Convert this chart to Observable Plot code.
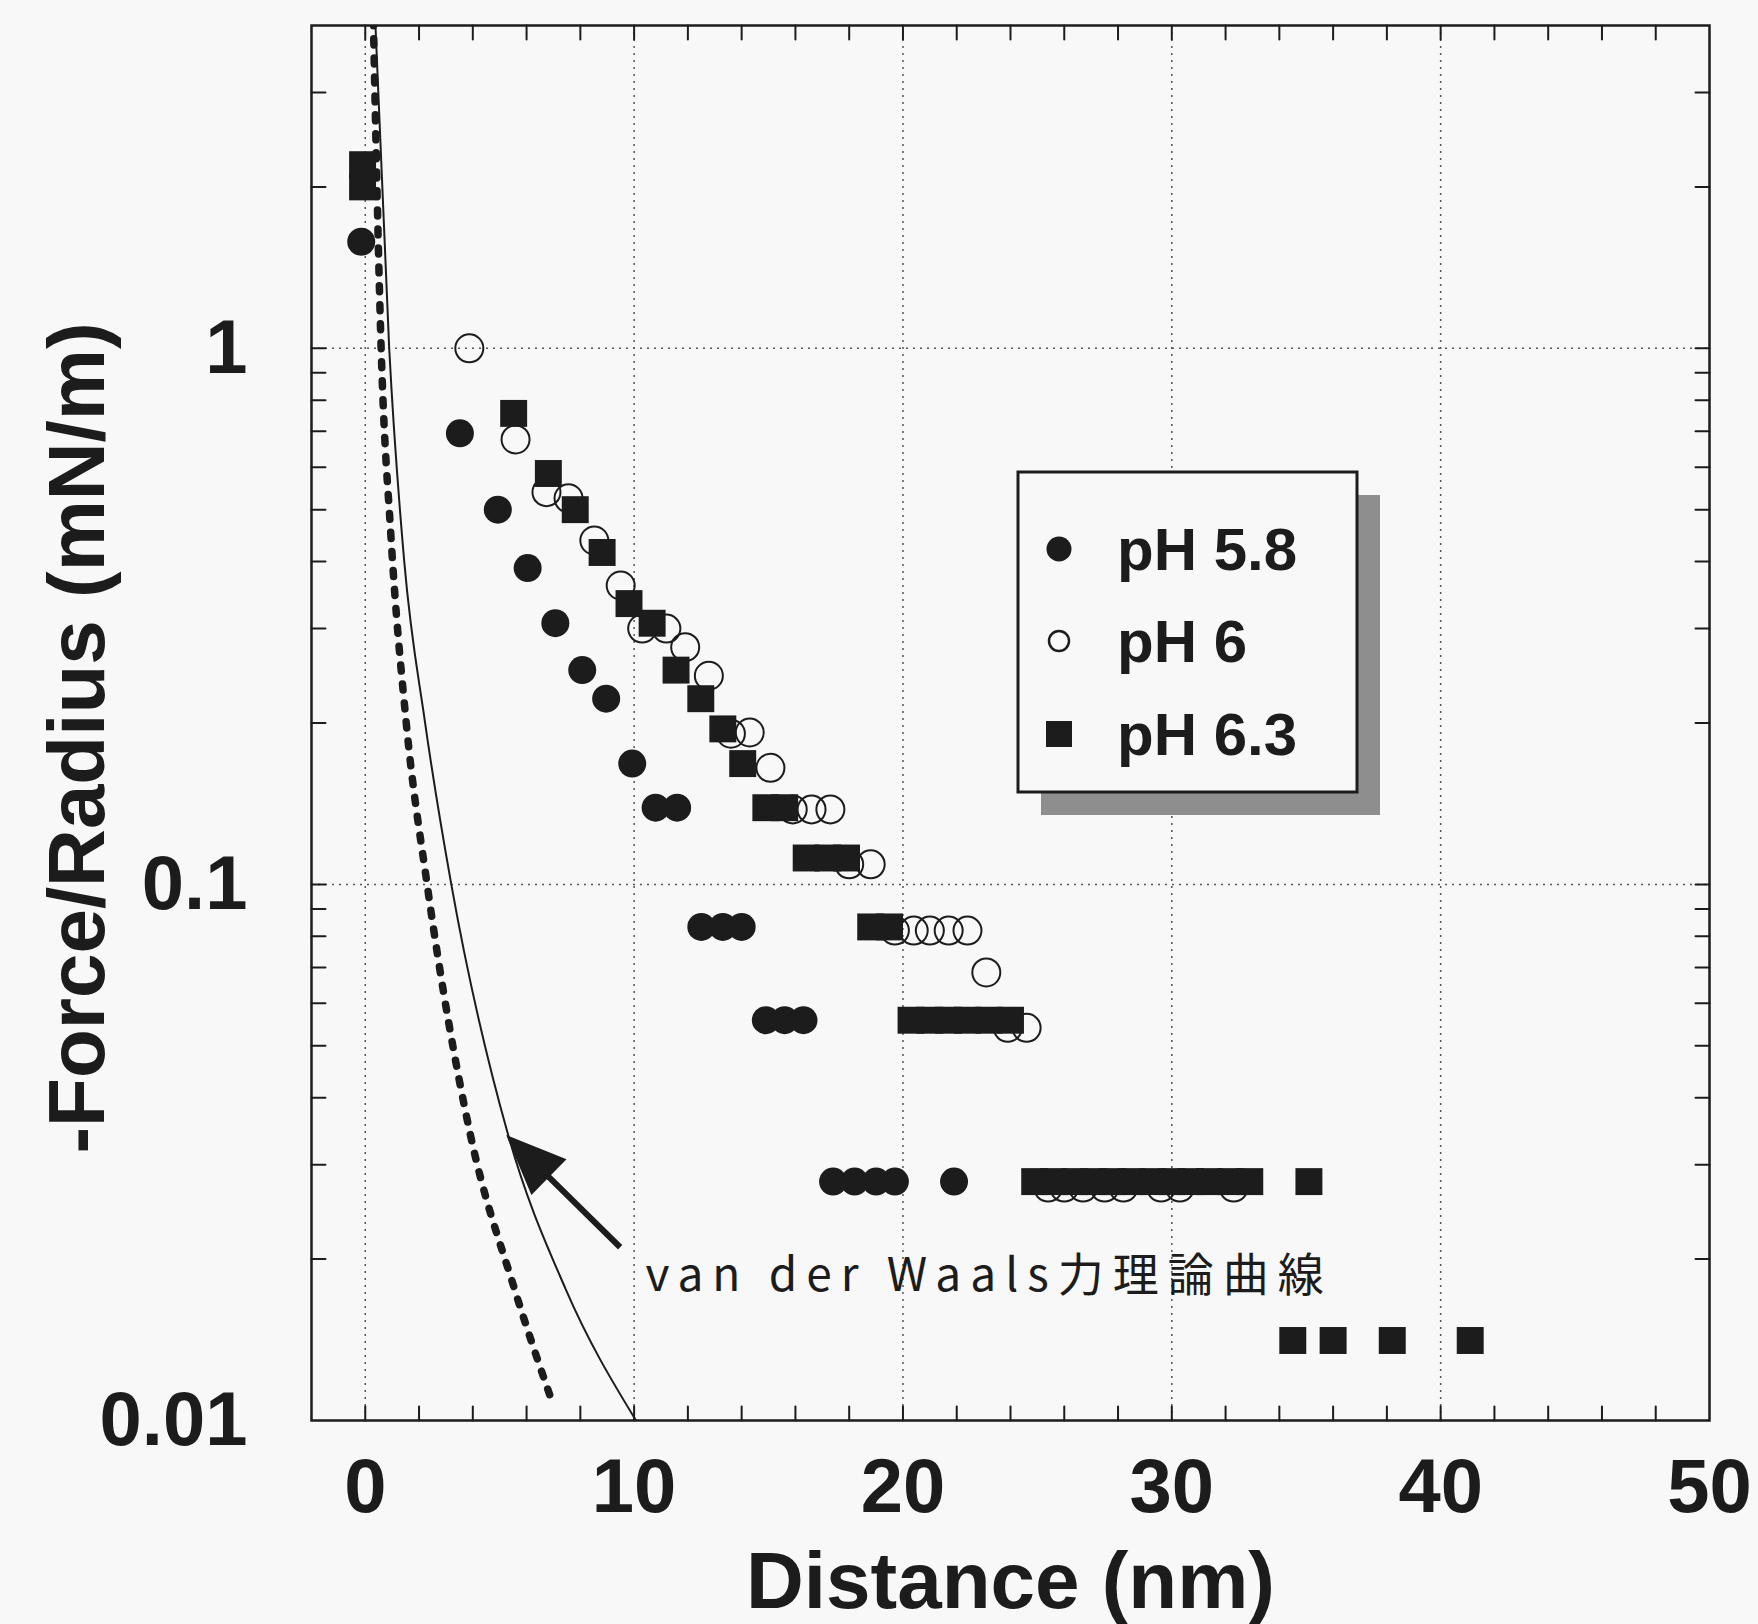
<!DOCTYPE html>
<html>
<head>
<meta charset="utf-8">
<script src="https://cdn.jsdelivr.net/npm/d3@7"></script>
<script src="https://cdn.jsdelivr.net/npm/@observablehq/plot@0.6"></script>
<style>
  html, body { margin: 0; padding: 0; background: #f8f8f8; }
  #chart { width: 1758px; height: 1624px; }
</style>
</head>
<body>
<div id="chart"></div>
<script>
// ---------- data ----------
const pH58X = [-0.15, 3.52, 4.93, 6.04, 7.07, 8.07, 8.96, 9.93, 10.8, 11.6, 12.5, 13.3, 14.0, 14.9, 15.6, 16.3, 17.4, 18.2, 19.0, 19.7, 21.9];
const pH58Y = [1.58, 0.694, 0.50, 0.389, 0.307, 0.251, 0.222, 0.168, 0.139, 0.139, 0.0833, 0.0833, 0.0833, 0.0558, 0.0558, 0.0558, 0.0279, 0.0279, 0.0279, 0.0279, 0.0279];

const pH6X = [3.87, 5.59, 6.74, 7.56, 8.52, 9.5, 10.3, 11.2, 11.9, 12.78, 13.6, 14.3, 15.07, 15.9, 16.6, 17.3, 18.0, 18.8, 19.7, 20.4, 21.0, 21.7, 22.4, 23.1, 23.9, 24.6, 25.4, 26.0, 26.7, 27.5, 28.2, 29.6, 30.3, 32.3];
const pH6Y = [1.0, 0.676, 0.539, 0.525, 0.438, 0.361, 0.30, 0.30, 0.277, 0.245, 0.191, 0.192, 0.165, 0.138, 0.138, 0.138, 0.109, 0.109, 0.082, 0.082, 0.082, 0.082, 0.082, 0.0685, 0.054, 0.054, 0.0272, 0.0272, 0.0272, 0.0272, 0.0272, 0.0272, 0.0272, 0.0272];

const pH63X = [-0.1, -0.1, 5.52, 6.81, 7.81, 8.81, 9.81, 10.67, 11.56, 12.48, 13.3, 14.04, 14.9, 15.6, 16.4, 17.2, 17.9, 18.8, 19.5, 20.3, 21.0, 21.7, 22.4, 23.2, 24.0, 24.9, 25.6, 26.4, 27.1, 27.8, 28.5, 29.3, 30.0, 30.7, 31.4, 32.2, 32.9, 35.1, 34.5, 36.0, 38.2, 41.1];
const pH63Y = [2.2, 2.0, 0.756, 0.584, 0.50, 0.416, 0.334, 0.307, 0.251, 0.222, 0.195, 0.168, 0.139, 0.139, 0.112, 0.112, 0.112, 0.0833, 0.0833, 0.0558, 0.0558, 0.0558, 0.0558, 0.0558, 0.0558, 0.0279, 0.0279, 0.0279, 0.0279, 0.0279, 0.0279, 0.0279, 0.0279, 0.0279, 0.0279, 0.0279, 0.0279, 0.0279, 0.0141, 0.0141, 0.0141, 0.0141];

// van der Waals theoretical curves
const vdwSolidX = [0.37, 0.89, 1.45, 2.22, 3.2, 5.3, 7.45, 10.07];
const vdwSolidY = [4.1, 1.0, 0.40, 0.201, 0.1, 0.0343, 0.0176, 0.01];
const vdwDottedX = [0.3, 0.59, 0.95, 1.52, 2.3, 3.9, 5.55, 6.96];
const vdwDottedY = [4.1, 1.0, 0.45, 0.201, 0.1, 0.0343, 0.0176, 0.0108];

// ticks, labels and texts
const xTickValues = [0, 10, 20, 30, 40, 50];
const yTickValues = [0.01, 0.1, 1];
const xGridValues = [0, 10, 20, 30, 40];
const yGridValues = [0.1, 1];
const seriesLabels = ["pH 5.8", "pH 6", "pH 6.3"];
const xTitle = "Distance (nm)";
const yTitle = "-Force/Radius (mN/m)";
const annotationLabel = "van der Waals力理論曲線";
// annotation arrow: tail (x, y) -> tip (x, y), in data units
const arrowTail = [9.5, 0.021];
const arrowTip = [5.26, 0.034];
const annotationAnchor = [10.44, 0.019];

// ---------- build ----------
const ink = "#1c1c1c";
const bg = "#f8f8f8";
const rows = (xs, ys) => xs.map((x, i) => ({x, y: ys[i]}));
const pH58 = rows(pH58X, pH58Y);
const pH6 = rows(pH6X, pH6Y);
const pH63 = rows(pH63X, pH63Y);
const vdwSolid = rows(vdwSolidX, vdwSolidY);
const vdwDotted = rows(vdwDottedX, vdwDottedY);

const xTickMarks = d3.range(0, 50, 2);
const yTickMarks = [];
for (const dec of [0.01, 0.1, 1]) for (let m = 1; m <= 9; m++) { const v = +(dec * m).toPrecision(3); if (v > 0.01 && v < 4) yTickMarks.push(v); }

const tickShape = {draw(ctx, l) { ctx.moveTo(0, 0); ctx.lineTo(0, -l); }};
const tickOpts = {length: 14, anchor: "start", shape: tickShape, stroke: ink, strokeWidth: 2};

const chart = Plot.plot({
  width: 1758,
  height: 1624,
  marginLeft: 311,
  marginRight: 49,
  marginTop: 25,
  marginBottom: 204,
  style: {background: bg, color: ink, fontFamily: "'Liberation Sans', Arial, sans-serif"},
  x: {domain: [-2, 50]},
  y: {type: "log", domain: [0.01, 4]},
  marks: [
    Plot.ruleX(xGridValues, {stroke: "#555", strokeWidth: 1.5, strokeDasharray: "2 5"}),
    Plot.ruleY(yGridValues, {stroke: "#555", strokeWidth: 1.5, strokeDasharray: "2 5"}),
    Plot.line(vdwSolid, {x: "x", y: "y", curve: "monotone-x", stroke: ink, strokeWidth: 2, clip: true}),
    Plot.line(vdwDotted, {x: "x", y: "y", curve: "monotone-x", stroke: ink, strokeWidth: 7.5, strokeDasharray: "6 13", clip: true}),
    Plot.dot(pH6, {x: "x", y: "y", r: 14, stroke: ink, strokeWidth: 2, fill: "none"}),
    Plot.dot(pH58, {x: "x", y: "y", r: 14, fill: ink, stroke: "none"}),
    Plot.dot(pH63, {x: "x", y: "y", r: 15.2, symbol: "square", fill: ink, stroke: "none"}),
    Plot.vector(xTickMarks, {x: d => d, frameAnchor: "bottom", rotate: 0, ...tickOpts}),
    Plot.vector(xTickMarks, {x: d => d, frameAnchor: "top", rotate: 180, ...tickOpts}),
    Plot.vector(yTickMarks, {y: d => d, frameAnchor: "left", rotate: 90, ...tickOpts}),
    Plot.vector(yTickMarks, {y: d => d, frameAnchor: "right", rotate: -90, ...tickOpts}),
    Plot.axisX(xTickValues, {anchor: "bottom", tickSize: 0, tickPadding: 38, fontSize: 76, fontWeight: "bold", label: null}),
    Plot.axisY(yTickValues, {anchor: "left", tickSize: 0, tickPadding: 64, fontSize: 76, fontWeight: "bold", label: null, tickFormat: d => String(d)}),
    Plot.text([xTitle], {text: d => d, frameAnchor: "bottom", dy: 162, lineAnchor: "middle", textAnchor: "middle", fontSize: 80, fontWeight: "bold", fill: ink}),
    Plot.text([yTitle], {text: d => d, frameAnchor: "left", rotate: -90, dx: -233, dy: 15, lineAnchor: "middle", textAnchor: "middle", fontSize: 80, fontWeight: "bold", fill: ink}),
    Plot.frame({stroke: ink, strokeWidth: 2.5})
  ]
});

document.getElementById("chart").appendChild(chart);

// ---------- annotations & legend ----------
const sx = chart.scale("x"), sy = chart.scale("y");
const svg = d3.select(chart);
const g = svg.append("g").attr("text-anchor", "start");

// arrow
const tx = sx.apply(arrowTail[0]), ty = sy.apply(arrowTail[1]);
const px = sx.apply(arrowTip[0]), py = sy.apply(arrowTip[1]);
const len = Math.hypot(px - tx, py - ty);
const ux = (px - tx) / len, uy = (py - ty) / len;
const headLen = 60, headHalf = 25;
const bx = px - ux * headLen, by = py - uy * headLen;
const nx = -uy, ny = ux;
g.append("line").attr("x1", tx).attr("y1", ty).attr("x2", bx + ux * 5).attr("y2", by + uy * 5)
  .attr("stroke", ink).attr("stroke-width", 6);
g.append("path")
  .attr("d", `M${px},${py}L${bx + nx * headHalf},${by + ny * headHalf}L${bx - nx * headHalf},${by - ny * headHalf}Z`)
  .attr("fill", ink);

// annotation text
g.append("text")
  .attr("x", sx.apply(annotationAnchor[0]))
  .attr("y", sy.apply(annotationAnchor[1]))
  .attr("text-anchor", "start")
  .attr("dominant-baseline", "central")
  .attr("font-family", "'Noto Sans CJK JP', 'Noto Sans', sans-serif")
  .attr("font-size", 46)
  .attr("letter-spacing", "9px")
  .attr("fill", ink)
  .text(annotationLabel);

// legend (layout position in pixels)
const L = {x: 1018, y: 472, w: 339, h: 320, shadow: 23};
g.append("rect").attr("x", L.x + L.shadow).attr("y", L.y + L.shadow).attr("width", L.w).attr("height", L.h)
  .attr("fill", "#8e8e8e");
g.append("rect").attr("x", L.x).attr("y", L.y).attr("width", L.w).attr("height", L.h)
  .attr("fill", bg).attr("stroke", ink).attr("stroke-width", 3);
const rowY = [549, 641, 734];
const symX = 1059;
g.append("circle").attr("cx", symX).attr("cy", rowY[0]).attr("r", 12.5).attr("fill", ink);
g.append("circle").attr("cx", symX).attr("cy", rowY[1]).attr("r", 10).attr("fill", "none").attr("stroke", ink).attr("stroke-width", 2.5);
g.append("rect").attr("x", symX - 13).attr("y", rowY[2] - 13).attr("width", 26).attr("height", 26).attr("fill", ink);
seriesLabels.forEach((s, i) => {
  g.append("text").attr("x", 1117).attr("y", rowY[i])
    .attr("text-anchor", "start")
    .attr("dominant-baseline", "central")
    .attr("font-family", "'Liberation Sans', Arial, sans-serif")
    .attr("font-weight", "bold").attr("font-size", 60).attr("fill", ink)
    .text(s);
});
</script>
</body>
</html>
